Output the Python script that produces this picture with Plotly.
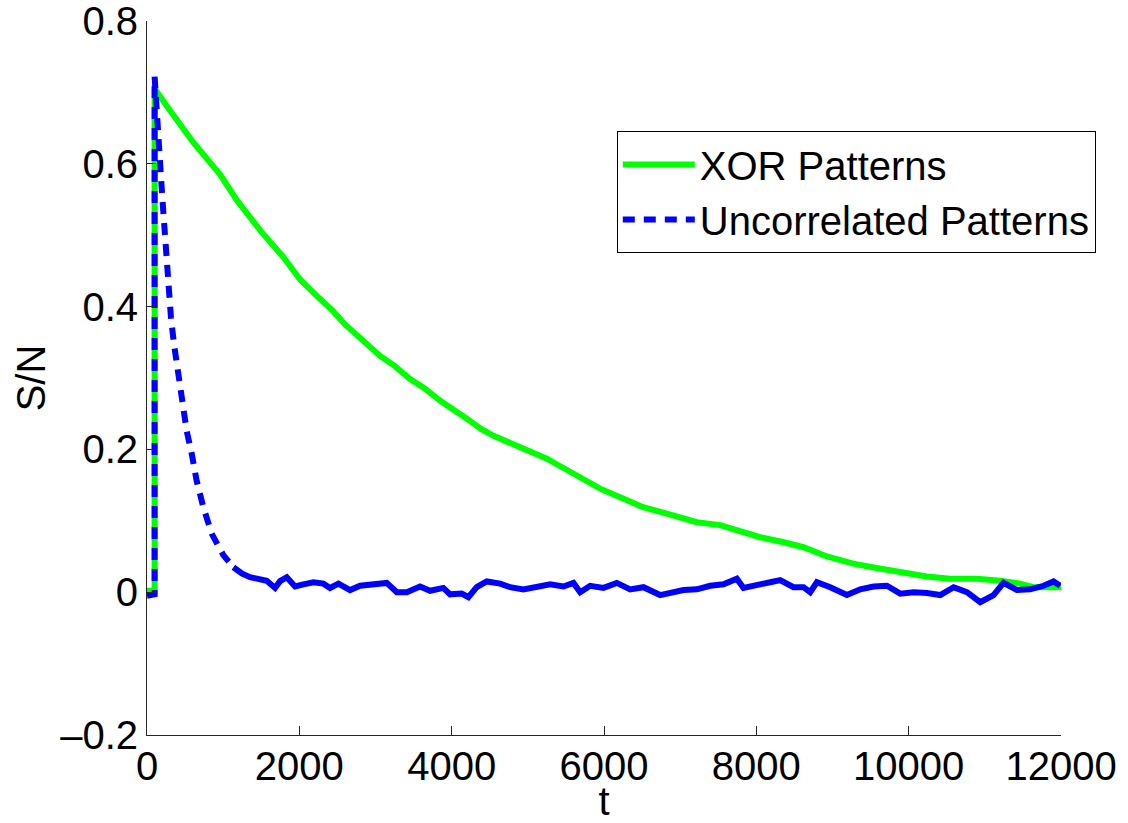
import plotly.graph_objects as go

# XOR Patterns (green, solid)
xor_t = [0, 100, 100, 130, 300, 600, 960, 1180, 1500, 1800, 2010, 2240, 2440, 2600,
         2760, 3060, 3250, 3450, 3650, 3850, 4200, 4380, 4550, 4900, 5250, 5450, 5640,
         5949, 6212, 6514, 6825, 7219, 7525, 7788, 8050, 8357, 8620, 8927, 9272, 9578,
         9888, 10238, 10545, 10895, 11202, 11465, 11636, 12000]
xor_s = [0.002, 0.002, 0.705, 0.700, 0.675, 0.631, 0.585, 0.549, 0.505, 0.468, 0.438,
         0.414, 0.394, 0.375, 0.359, 0.331, 0.317, 0.299, 0.285, 0.268, 0.243, 0.229,
         0.219, 0.203, 0.187, 0.175, 0.163, 0.145, 0.133, 0.119, 0.110, 0.098, 0.094,
         0.085, 0.077, 0.070, 0.063, 0.050, 0.040, 0.034, 0.028, 0.022, 0.019, 0.019,
         0.016, 0.012, 0.007, 0.007]

# Uncorrelated Patterns (blue, dashed)
unc_t = [0, 50, 100, 100, 130, 171, 193, 214, 236, 258, 280, 315, 355, 398, 455, 521,
         587, 652, 740, 849, 1002, 1134, 1250, 1353, 1450, 1572, 1681, 1747, 1835, 1944,
         2053, 2185, 2316, 2404, 2513, 2666, 2797, 3016, 3148, 3279, 3410, 3585, 3716,
         3891, 3979, 4132, 4220, 4329, 4461, 4636, 4767, 4942, 5117, 5292, 5468, 5599,
         5687, 5818, 5993, 6168, 6343, 6518, 6737, 6912, 7044, 7219, 7394, 7569, 7744,
         7832, 8007, 8182, 8313, 8488, 8619, 8707, 8795, 8970, 9189, 9364, 9540, 9715,
         9890, 10065, 10240, 10415, 10590, 10765, 10939, 11114, 11245, 11420, 11596,
         11771, 11902, 11990]
unc_s = [-0.005, -0.004, -0.003, 0.722, 0.660, 0.592, 0.566, 0.533, 0.498, 0.463, 0.426,
         0.384, 0.347, 0.314, 0.268, 0.226, 0.194, 0.156, 0.119, 0.082, 0.052, 0.035,
         0.026, 0.021, 0.018, 0.016, 0.006, 0.0155, 0.021, 0.008, 0.011, 0.014, 0.012,
         0.006, 0.012, 0.003, 0.009, 0.012, 0.013, 0.000, 0.000, 0.008, 0.002, 0.006,
         -0.003, -0.002, -0.007, 0.007, 0.015, 0.012, 0.007, 0.004, 0.007, 0.011, 0.008,
         0.013, 0.000, 0.009, 0.006, 0.013, 0.004, 0.007, -0.004, 0.000, 0.003, 0.004,
         0.009, 0.011, 0.019, 0.006, 0.009, 0.014, 0.017, 0.007, 0.007, 0.000, 0.014,
         0.007, -0.004, 0.004, 0.008, 0.009, -0.002, 0.000, -0.001, -0.004, 0.007, 0.000,
         -0.014, -0.004, 0.013, 0.003, 0.004, 0.009, 0.015, 0.009]

x_ticks = [0, 2000, 4000, 6000, 8000, 10000, 12000]
x_ticklabels = ["0", "2000", "4000", "6000", "8000", "10000", "12000"]
y_ticks = [-0.2, 0, 0.2, 0.4, 0.6, 0.8]
y_ticklabels = ["\u20130.2", "0", "0.2", "0.4", "0.6", "0.8"]

GREEN = "#00ff00"
BLUE = "#0000ff"
FONT = "Liberation Sans, Arial, Helvetica, sans-serif"
FS = 40

# split the blue series: dashed over the steep decay, solid-looking over the dense noisy tail
split = unc_t.index(1134)

fig = go.Figure()
fig.add_trace(go.Scatter(x=xor_t, y=xor_s, mode="lines", name="XOR Patterns",
                         line=dict(color=GREEN, width=6)))
fig.add_trace(go.Scatter(x=unc_t[:split + 1], y=unc_s[:split + 1], mode="lines",
                         name="Uncorrelated Patterns", legendgroup="unc",
                         line=dict(color=BLUE, width=6, dash="12px,9px")))
fig.add_trace(go.Scatter(x=unc_t[split:], y=unc_s[split:], mode="lines",
                         name="Uncorrelated Patterns", legendgroup="unc", showlegend=False,
                         line=dict(color=BLUE, width=6)))

axis_common = dict(showgrid=False, zeroline=False, showline=True, linecolor="#262626",
                   linewidth=1, ticks="inside", ticklen=9, tickcolor="#262626",
                   ticklabeloverflow="allow",
                   tickfont=dict(family=FONT, size=FS, color="black"), mirror=False)

fig.update_layout(
    width=1128, height=823,
    margin=dict(l=147, r=67, t=21, b=88, autoexpand=False),
    paper_bgcolor="white", plot_bgcolor="white",
    font=dict(family=FONT, size=FS, color="black"),
    showlegend=True,
    legend=dict(x=0.514, y=0.846, xanchor="left", yanchor="top",
                bgcolor="white", bordercolor="black", borderwidth=1,
                font=dict(family=FONT, size=FS, color="black"),
                itemwidth=72, tracegroupgap=0),
    xaxis=dict(range=[0, 12000], tickvals=x_ticks, ticktext=x_ticklabels,
               ticklabelstandoff=-4,
               title=dict(text="t", font=dict(family=FONT, size=FS), standoff=12),
               **axis_common),
    yaxis=dict(range=[-0.2, 0.80001], tickvals=y_ticks, ticktext=y_ticklabels,
               title=dict(text="S/N", font=dict(family=FONT, size=FS), standoff=2),
               **axis_common),
)

fig.write_html("out.html")
